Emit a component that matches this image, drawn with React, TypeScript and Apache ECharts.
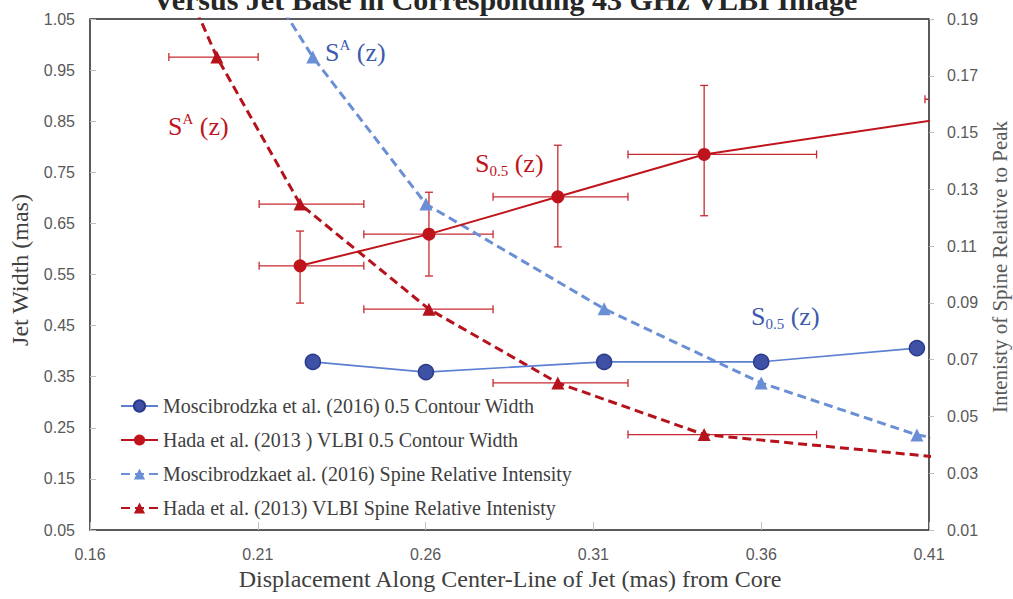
import React, { useEffect, useRef } from "react";
import * as echarts from "echarts";

// ---- axes ----
const xMin = 0.16;
const xMax = 0.41;
const xStep = 0.05;
const widthMin = 0.05;
const widthMax = 1.05;
const widthStep = 0.1;
const spineMin = 0.01;
const spineMax = 0.19;
const spineStep = 0.02;

// ---- texts ----
const chartTitle = "Versus Jet Base in Corresponding 43 GHz VLBI Image";
const xTitle = "Displacement Along Center-Line of Jet (mas) from Core";
const leftTitle = "Jet Width (mas)";
const rightTitle = "Intenisty of Spine Relative to Peak";
const seriesNames = [
  "Moscibrodzka et al. (2016) 0.5 Contour Width",
  "Hada et al. (2013 ) VLBI 0.5 Contour Width",
  "Moscibrodzkaet al. (2016) Spine Relative Intensity",
  "Hada et al. (2013) VLBI Spine Relative Intenisty",
];

// ---- data ----
// Moscibrodzka et al. (2016) 0.5 contour width (left axis)
const mosWidthX = [0.2264, 0.2601, 0.3132, 0.36, 0.4064];
const mosWidthY = [0.379, 0.359, 0.379, 0.379, 0.406];

// Hada et al. (2013) VLBI 0.5 contour width (left axis)
const hadaWidthX = [0.2226, 0.261, 0.2994, 0.343, 0.453];
const hadaWidthY = [0.567, 0.629, 0.702, 0.785, 0.893];
const hadaWidthXLo = [0.2104, 0.2416, 0.2801, 0.3203, 0.4088];
const hadaWidthXHi = [0.2416, 0.2801, 0.3203, 0.3765, 0.4972];
const hadaWidthYLo = [0.494, 0.547, 0.604, 0.665, 0.76];
const hadaWidthYHi = [0.635, 0.711, 0.803, 0.92, 1.026];

// Moscibrodzka et al. (2016) spine relative intensity (right axis)
const mosSpineX = [0.2, 0.2264, 0.2601, 0.3132, 0.36, 0.4064, 0.453];
const mosSpineY = [0.226, 0.1766, 0.1248, 0.0879, 0.0618, 0.0435, 0.0343];

// Hada et al. (2013) VLBI spine relative intensity (right axis)
const hadaSpineX = [0.185, 0.1978, 0.2226, 0.261, 0.2994, 0.343, 0.453];
const hadaSpineY = [0.211, 0.1766, 0.1248, 0.0878, 0.0618, 0.0436, 0.0311];
const hadaSpineXLo = [0.172, 0.1835, 0.2104, 0.2416, 0.2801, 0.3203, 0.4200];
const hadaSpineXHi = [0.198, 0.2101, 0.2416, 0.2801, 0.3203, 0.3765, 0.4972];

const SERIF = "'Liberation Serif', 'Times New Roman', serif";
const SANS = "'Liberation Sans', Arial, sans-serif";

const RED = "#C0141C";
const RED_ERR = "#C62A31";
const BLUE_DARK = "#3F51A5";
const BLUE_LINE = "#5B7FD1";
const BLUE_TRI = "#6A8FD5";

function errorRender(params: any, api: any) {
  const x = api.value(0);
  const y = api.value(1);
  const xl = api.value(2);
  const xh = api.value(3);
  const yl = api.value(4);
  const yh = api.value(5);
  const cap = 4;
  const style = { stroke: RED_ERR, lineWidth: 1.3 };
  const children: any[] = [];
  const pl = api.coord([xl, y]);
  const ph = api.coord([xh, y]);
  children.push({ type: "line", shape: { x1: pl[0], y1: pl[1], x2: ph[0], y2: ph[1] }, style });
  children.push({ type: "line", shape: { x1: pl[0], y1: pl[1] - cap, x2: pl[0], y2: pl[1] + cap }, style });
  children.push({ type: "line", shape: { x1: ph[0], y1: ph[1] - cap, x2: ph[0], y2: ph[1] + cap }, style });
  if (yl !== yh) {
    const vl = api.coord([x, yl]);
    const vh = api.coord([x, yh]);
    children.push({ type: "line", shape: { x1: vl[0], y1: vl[1], x2: vh[0], y2: vh[1] }, style });
    children.push({ type: "line", shape: { x1: vl[0] - cap, y1: vl[1], x2: vl[0] + cap, y2: vl[1] }, style });
    children.push({ type: "line", shape: { x1: vh[0] - cap, y1: vh[1], x2: vh[0] + cap, y2: vh[1] }, style });
  }
  return { type: "group", children };
}

function labelText(x: number, y: number, color: string, parts: string) {
  return {
    type: "text",
    x,
    y,
    z: 100,
    style: {
      text: parts,
      align: "left",
      verticalAlign: "middle",
      fill: color,
      font: `26px ${SERIF}`,
      rich: {
        m: { fontFamily: SERIF, fontSize: 26, lineHeight: 30, fill: color, color },
        sup: { fontFamily: SERIF, fontSize: 15, lineHeight: 22, verticalAlign: "top", fill: color, color },
        sub: { fontFamily: SERIF, fontSize: 15, lineHeight: 12, verticalAlign: "bottom", fill: color, color },
      },
    },
  };
}

export default function App() {
  const ref = useRef<HTMLDivElement>(null);

  useEffect(() => {
    if (!ref.current) return;
    const chart = echarts.init(ref.current, undefined, { renderer: "svg" });

    const fmt = (v: number) => v.toFixed(2);
    const axisLabel = (margin: number) => ({
      margin,
      color: "#595959",
      fontFamily: SANS,
      fontSize: 16,
      formatter: fmt,
    });

    const option: any = {
      animation: false,
      backgroundColor: "#ffffff",
      grid: {
        left: 90,
        right: 84,
        top: 19,
        bottom: 69,
        show: true,
        borderColor: "#262626",
        borderWidth: 1.5,
        backgroundColor: "transparent",
      },
      xAxis: {
        type: "value",
        min: xMin,
        max: xMax,
        interval: xStep,
        axisLine: { show: false },
        axisTick: { show: true, inside: true, length: 8, lineStyle: { color: "#BFBFBF" } },
        axisLabel: axisLabel(16),
        splitLine: { show: false },
      },
      yAxis: [
        {
          type: "value",
          position: "left",
          min: widthMin,
          max: widthMax,
          interval: widthStep,
          axisLine: { show: false },
          axisTick: { show: true, inside: true, length: 6, lineStyle: { color: "#BFBFBF" } },
          axisLabel: axisLabel(15),
          splitLine: { show: false },
        },
        {
          type: "value",
          position: "right",
          min: spineMin,
          max: spineMax,
          interval: spineStep,
          axisLine: { show: false },
          axisTick: { show: true, inside: false, length: 5, lineStyle: { color: "#BFBFBF" } },
          axisLabel: axisLabel(18),
          splitLine: { show: false },
        },
      ],
      legend: {
        orient: "vertical",
        left: 120,
        top: 396,
        padding: 0,
        itemWidth: 37,
        itemHeight: 14,
        itemGap: 14,
        data: seriesNames,
        textStyle: { fontFamily: SERIF, fontSize: 20, lineHeight: 20, color: "#404040" },
      },
      series: [
        {
          type: "custom",
          name: "hadaWidthErr",
          xAxisIndex: 0,
          yAxisIndex: 0,
          clip: true,
          z: 1,
          renderItem: errorRender,
          encode: { x: 0, y: 1 },
          data: hadaWidthX.map((x, i) => [x, hadaWidthY[i], hadaWidthXLo[i], hadaWidthXHi[i], hadaWidthYLo[i], hadaWidthYHi[i]]),
          silent: true,
        },
        {
          type: "custom",
          name: "hadaSpineErr",
          xAxisIndex: 0,
          yAxisIndex: 1,
          clip: true,
          z: 1,
          renderItem: errorRender,
          encode: { x: 0, y: 1 },
          data: hadaSpineX.map((x, i) => [x, hadaSpineY[i], hadaSpineXLo[i], hadaSpineXHi[i], hadaSpineY[i], hadaSpineY[i]]),
          silent: true,
        },
        {
          type: "line",
          name: seriesNames[0],
          yAxisIndex: 0,
          clip: true,
          z: 3,
          symbol: "circle",
          symbolSize: 15,
          itemStyle: { color: BLUE_DARK, borderColor: "#2A3B8C", borderWidth: 1.5 },
          lineStyle: { color: BLUE_LINE, width: 1.6 },
          data: mosWidthX.map((x, i) => [x, mosWidthY[i]]),
        },
        {
          type: "line",
          name: seriesNames[1],
          yAxisIndex: 0,
          clip: true,
          z: 3,
          symbol: "circle",
          symbolSize: 13,
          itemStyle: { color: RED, borderColor: RED, borderWidth: 0 },
          lineStyle: { color: RED, width: 2 },
          data: hadaWidthX.map((x, i) => [x, hadaWidthY[i]]),
        },
        {
          type: "line",
          name: seriesNames[2],
          yAxisIndex: 1,
          clip: true,
          z: 2,
          symbol: "triangle",
          symbolSize: 13,
          itemStyle: { color: BLUE_TRI },
          lineStyle: { color: BLUE_TRI, width: 3, type: [9, 5] },
          data: mosSpineX.map((x, i) => [x, mosSpineY[i]]),
        },
        {
          type: "line",
          name: seriesNames[3],
          yAxisIndex: 1,
          clip: true,
          z: 2,
          symbol: "triangle",
          symbolSize: 13,
          itemStyle: { color: "#B5121B" },
          lineStyle: { color: "#B5121B", width: 3, type: [9, 5] },
          data: hadaSpineX.map((x, i) => [x, hadaSpineY[i]]),
        },
      ],
      graphic: [
        {
          type: "text",
          x: 505,
          y: -1,
          style: {
            text: chartTitle,
            align: "center",
            verticalAlign: "middle",
            fill: "#262626",
            font: `bold 30px ${SERIF}`,
          },
        },
        {
          type: "text",
          x: 510,
          y: 579,
          style: {
            text: xTitle,
            align: "center",
            verticalAlign: "middle",
            fill: "#404040",
            font: `24px ${SERIF}`,
          },
        },
        {
          type: "text",
          x: 19.5,
          y: 270,
          rotation: Math.PI / 2,
          style: {
            text: leftTitle,
            align: "center",
            verticalAlign: "middle",
            fill: "#404040",
            font: `24px ${SERIF}`,
          },
        },
        {
          type: "text",
          x: 1000,
          y: 267,
          rotation: Math.PI / 2,
          style: {
            text: rightTitle,
            align: "center",
            verticalAlign: "middle",
            fill: "#595959",
            font: `21px ${SERIF}`,
          },
        },
        labelText(325, 52, "#3D5AAE", "{m|S}{sup|A}{m| (z)}"),
        labelText(168, 126, RED, "{m|S}{sup|A}{m| (z)}"),
        labelText(475, 163, RED, "{m|S}{sub|0.5}{m| (z)}"),
        labelText(751, 316, "#3D5AAE", "{m|S}{sub|0.5}{m| (z)}"),
      ],
    };

    chart.setOption(option);
    return () => {
      chart.dispose();
    };
  }, []);

  return (
    <div
      ref={ref}
      style={{ position: "absolute", left: 0, top: 0, width: 1013, height: 599 }}
    />
  );
}
